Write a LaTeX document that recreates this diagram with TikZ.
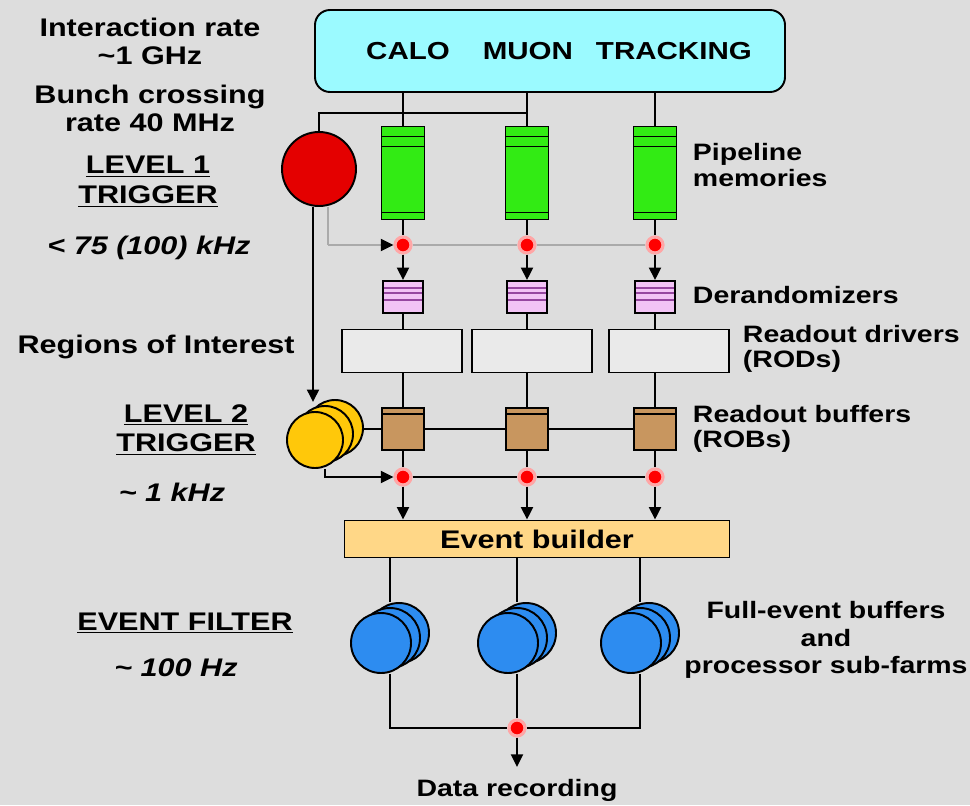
\documentclass[tikz,border=0pt]{standalone}
\usepackage{fontspec}
\setmainfont{Liberation Sans}[FakeStretch=1.2]
\usetikzlibrary{arrows.meta,calc}

\definecolor{bggray}{RGB}{221,221,221}
\definecolor{detcyan}{RGB}{155,250,255}
\definecolor{pipegreen}{RGB}{50,235,20}
\definecolor{trigred}{RGB}{228,0,0}
\definecolor{derpink}{RGB}{242,195,245}
\definecolor{derline}{RGB}{150,70,160}
\definecolor{rodgray}{RGB}{234,234,234}
\definecolor{robbrown}{RGB}{200,150,95}
\definecolor{lvltwo}{RGB}{255,200,10}
\definecolor{ebyellow}{RGB}{255,215,135}
\definecolor{efblue}{RGB}{45,140,240}
\definecolor{accgray}{RGB}{170,170,170}

\begin{document}
\begin{tikzpicture}[x=0.2mm, y=-0.2mm, line width=1.1pt,
  detbox/.style={draw, fill=detcyan, rounded corners=3mm, minimum width=94mm, minimum height=16.4mm,
    font=\fontsize{14}{16}\selectfont\bfseries},
  pipebox/.style={draw, fill=pipegreen, minimum width=8.6mm, minimum height=18.6mm, inner sep=0pt,
    path picture={
      \draw[line width=0.7pt] ([yshift=-2mm]path picture bounding box.north west) -- ([yshift=-2mm]path picture bounding box.north east);
      \draw[line width=0.7pt] ([yshift=-4mm]path picture bounding box.north west) -- ([yshift=-4mm]path picture bounding box.north east);
      \draw[line width=0.7pt] ([yshift=1.4mm]path picture bounding box.south west) -- ([yshift=1.4mm]path picture bounding box.south east);}},
  derbox/.style={draw, fill=derpink, minimum width=8mm, minimum height=6.4mm, inner sep=0pt,
    path picture={
      \foreach \d in {1.4mm,2.4mm,3.8mm}
        \draw[derline, line width=0.6pt] ([yshift=-\d]path picture bounding box.north west) -- ([yshift=-\d]path picture bounding box.north east);}},
  rodbox/.style={draw, fill=rodgray, minimum width=24mm, minimum height=8.6mm, inner sep=0pt},
  robbox/.style={draw, fill=robbrown, minimum width=8.4mm, minimum height=8.4mm, inner sep=0pt,
    path picture={
      \draw[line width=0.6pt] ([yshift=-1.2mm]path picture bounding box.north west) -- ([yshift=-1.2mm]path picture bounding box.north east);}},
  ebbox/.style={draw, fill=ebyellow, minimum width=77mm, minimum height=7.4mm, inner sep=0pt,
    font=\fontsize{14.5}{16}\selectfont\bfseries},
  trig/.style={circle, draw, inner sep=0pt},
  dotr/.style={circle, fill=red, draw=red!35, line width=1.8pt, minimum size=3.2mm, inner sep=0pt},
  arr/.style={-{Triangle[length=2.5mm,width=2.4mm]}},
  accline/.style={draw=accgray},
  lbl/.style={font=\fontsize{13.5}{14.6}\selectfont\bfseries, align=left, anchor=west, inner sep=0pt},
  sidelbl/.style={font=\fontsize{14.5}{16}\selectfont\bfseries, align=center, inner sep=0pt},
  ratelbl/.style={font=\fontsize{14.5}{16}\selectfont\bfseries\itshape, align=center, inner sep=0pt}]

\useasboundingbox (0,0) rectangle (970,805);
\fill[bggray] (0,0) rectangle (970,805);

% detectors and level 1
\node[detbox] (det) at (550,51) {\hspace*{3.6mm}CALO\hspace{6.6mm}MUON\hspace{4.6mm}TRACKING};
\node[trig, fill=trigred, minimum size=14.8mm] (lvl1) at (319,169) {};

\foreach \i/\x in {1/403,2/527,3/655} {
  \node[pipebox] (pipe\i) at (\x,173) {};
  \node[dotr] (ldot\i) at (\x,245) {};
  \node[derbox] (der\i) at (\x,297) {};
  \node[robbox] (rob\i) at (\x,429) {};
  \node[dotr] (tdot\i) at (\x,477) {};
}
\foreach \i/\x in {1/402,2/532,3/669}
  \node[rodbox] (rod\i) at (\x,351) {};

% level 2 (stacked)
\node[trig, fill=lvltwo, minimum size=11.2mm] (lvl2b) at (335,428) {};
\node[trig, fill=lvltwo, minimum size=11.2mm] (lvl2m) at (325,434) {};
\node[trig, fill=lvltwo, minimum size=11.2mm] (lvl2f) at (315,440) {};

\node[ebbox] (eb) at (537,539) {Event builder};

% event filter farms
\foreach \i/\x in {1/390,2/517,3/640} {
  \node[trig, fill=efblue, minimum size=12mm] (efb\i) at (\x+9,633) {};
  \node[trig, fill=efblue, minimum size=12mm] (efm\i) at (\x,638) {};
  \node[trig, fill=efblue, minimum size=12mm] (eff\i) at (\x-9,643) {};
}
\node[dotr] (rdot) at (517,728) {};

\coordinate (l1in) at (527,113);
\coordinate (l1a) at (328,245);
\coordinate (roi) at (313,402);
\coordinate (l2a) at (325,477);

% connections
\draw (l1in) -| (lvl1.north);
\draw[accline] (l1a |- lvl1.south) -- (l1a);
\draw[accline, -{Triangle[length=2.5mm,width=2.4mm,color=black]}] (l1a) -- (ldot1.west);
\draw[accline] (ldot1.east) -- (ldot2.west) (ldot2.east) -- (ldot3.west);
\draw[arr] (roi |- lvl1.south) -- (roi);
\draw[arr] (l2a |- lvl2f.south) -- (l2a) -- (tdot1.west);
\draw (tdot1.east) -- (tdot2.west) (tdot2.east) -- (tdot3.west);
\draw (lvl2b.east |- rob1) -- (rob1.west) (rob1.east) -- (rob2.west) (rob2.east) -- (rob3.west);

\foreach \i in {1,2,3} {
  \draw (pipe\i |- det.south) -- (pipe\i.north);
  \draw (pipe\i.south) -- (ldot\i.north);
  \draw[arr] (ldot\i.south) -- (der\i.north);
  \draw (der\i.south) -- (der\i.south |- rod\i.north);
  \draw (rob\i.north |- rod\i.south) -- (rob\i.north);
  \draw (rob\i.south) -- (tdot\i.north);
  \draw[arr] (tdot\i.south) -- (tdot\i |- eb.north);
  \draw (efm\i |- eb.south) -- (efm\i |- efb\i.north);
}
\draw (efm1 |- eff1.south) -- (efm1 |- rdot) -- (rdot.west);
\draw (efm3 |- eff3.south) -- (efm3 |- rdot) -- (rdot.east);
\draw (efm2 |- eff2.south) -- (rdot.north);

% labels
\node[sidelbl] (irate) at (150,41) {Interaction rate\\\textasciitilde1 GHz};
\node[sidelbl] (bxrate) at (150,108) {Bunch crossing\\rate 40 MHz};
\node[sidelbl, font=\fontsize{14.5}{17}\selectfont\bfseries] (l1txt) at (148,182) {\underline{LEVEL 1}\\\underline{TRIGGER}};
\node[ratelbl] (l1rate) at (149,248) {< 75 (100) kHz};
\node[sidelbl] (roitxt) at (156,347) {Regions of Interest};
\node[sidelbl, font=\fontsize{14.5}{17}\selectfont\bfseries] (l2txt) at (186,430) {\underline{LEVEL 2}\\\underline{TRIGGER}};
\node[ratelbl] (l2rate) at (172,492) {\textasciitilde\ 1 kHz};
\node[sidelbl] (eftxt) at (185,623) {\underline{EVENT FILTER}};
\node[ratelbl] (efrate) at (176,668) {\textasciitilde\ 100 Hz};

\node[lbl] (pipetxt) at (692,165) {Pipeline\\memories};
\node[lbl] (dertxt) at (692,295) {Derandomizers};
\node[lbl] (rodtxt) at (742,349) {Readout drivers\\(RODs)};
\node[lbl] (robtxt) at (692,429) {Readout buffers\\(ROBs)};
\node[lbl, anchor=center, align=center, font=\fontsize{13.5}{15.5}\selectfont\bfseries] (farmtxt) at (826,640) {Full-event buffers\\and\\processor sub-farms};
\node[lbl, anchor=center] (rec) at (517,790) {Data recording};
\draw[arr, shorten >=2.2mm] (rdot.south) -- (rec.north);

\end{tikzpicture}
\end{document}
